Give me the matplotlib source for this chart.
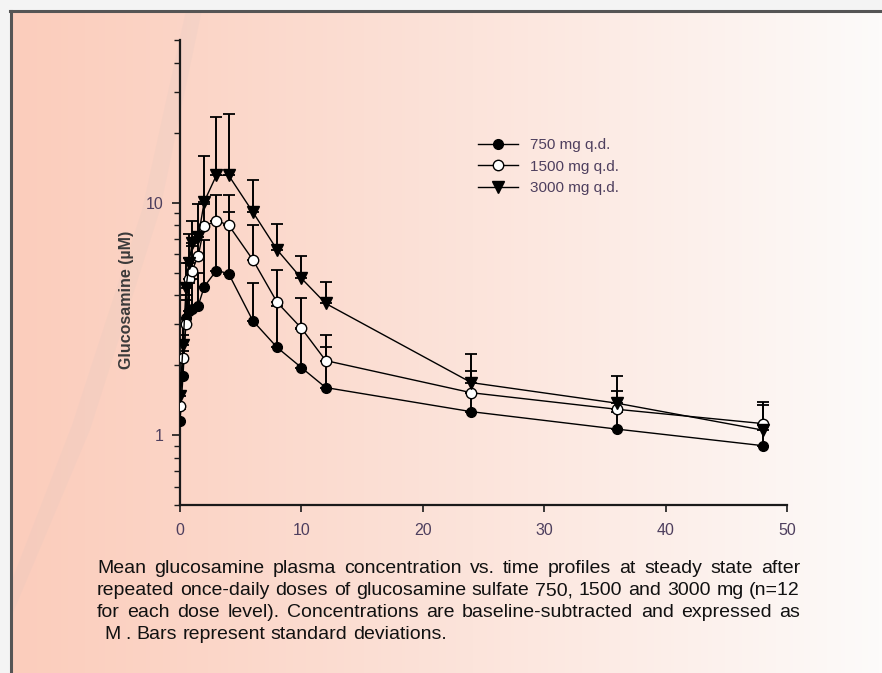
import matplotlib
matplotlib.use('Agg')
import matplotlib.pyplot as plt
import numpy as np
from matplotlib.patches import Polygon
from matplotlib.ticker import FixedLocator, FixedFormatter, NullFormatter, LogLocator

# sampling times (h) and mean concentrations (uM)
hours = [0, 0.25, 0.5, 0.75, 1, 1.5, 2, 3, 4, 6, 8, 10, 12, 24, 36, 48]
conc_750 = [1.15, 1.8, 3.2, 3.4, 3.5, 3.6, 4.35, 5.1, 4.95, 3.1, 2.38, 1.95, 1.6, 1.26, 1.06, 0.90]
conc_1500 = [1.33, 2.15, 3.0, 4.7, 5.1, 5.9, 7.9, 8.35, 8.0, 5.67, 3.72, 2.88, 2.09, 1.52, 1.29, 1.12]
conc_3000 = [1.47, 2.43, 4.3, 5.5, 6.7, 7.1, 10.1, 13.1, 13.1, 9.1, 6.26, 4.72, 3.68, 1.68, 1.37, 1.05]

# standard deviations (only the upper bar is drawn)
sd_750 = [0.15, 0.5, 0.8, 1.1, 1.2, 1.4, 2.55, 3.2, 4.15, 1.4, 1.2, 0.9, 0.8, 0.25, 0.2, 0.2]
sd_1500 = [0.2, 0.55, 0.8, 1.1, 1.4, 1.5, 2.0, 2.45, 2.8, 2.3, 1.4, 1.0, 0.6, 0.36, 0.25, 0.26]
sd_3000 = [0.28, 0.57, 1.2, 1.8, 1.6, 2.8, 5.8, 10.2, 10.9, 3.4, 1.84, 1.18, 0.88, 0.54, 0.43, 0.3]

dose_labels = ['750 mg q.d.', '1500 mg q.d.', '3000 mg q.d.']
x_ticks = [0, 10, 20, 30, 40, 50]
y_labeled = [1, 10]

caption_lines = [
    'Mean glucosamine plasma concentration vs. time profiles at steady state after',
    'repeated once-daily doses of glucosamine sulfate 750, 1500 and 3000 mg (n=12',
    'for each dose level). Concentrations are baseline-subtracted and expressed as',
    ' M . Bars represent standard deviations.',
]

W, H = 882, 673
FONT = 'Liberation Sans'

fig = plt.figure(figsize=(W / 100, H / 100), dpi=100)
fig.patch.set_facecolor('#f4f4f4')

# background panel with horizontal gradient
bg = fig.add_axes([10 / W, 0, (W - 10) / W, (H - 10) / H])
bg.set_axis_off()
left_c = np.array([251, 205, 188]) / 255
right_c = np.array([253, 251, 250]) / 255
t = np.linspace(0, 1, 256) ** 1.1
grad = left_c[None, :] * (1 - t[:, None]) + right_c[None, :] * t[:, None]
bg.imshow(grad[None, :, :], aspect='auto', extent=[0, 1, 0, 1])
bg.set_xlim(0, 1)
bg.set_ylim(0, 1)

# faint decorative swoosh
pw, ph = W - 10, H - 10
sw = [(176, 0), (192, 0), (150, 200), (80, 420), (0, 610), (0, 575), (62, 415), (132, 200)]
bg.add_patch(Polygon([(x / pw, 1 - y / ph) for x, y in sw], closed=True,
                     facecolor='#c8c0c0', alpha=0.10, edgecolor='none'))

# panel border (top and left)
fig.add_artist(plt.Line2D([10 / W, 1], [1 - 11 / H, 1 - 11 / H], color='#555555', lw=2.2))
fig.add_artist(plt.Line2D([11 / W, 11 / W], [0, 1 - 11 / H], color='#555555', lw=2.2))

ax = fig.add_axes([180 / W, 1 - 505 / H, 607 / W, 465 / H])
ax.patch.set_alpha(0)
ax.set_yscale('log')
ax.set_xlim(0, 50)
ax.set_ylim(0.5, 50)

series = [
    (conc_750, sd_750, dict(marker='o', mfc='black', mec='black', ms=7)),
    (conc_1500, sd_1500, dict(marker='o', mfc='white', mec='black', ms=7.5)),
    (conc_3000, sd_3000, dict(marker='v', mfc='black', mec='black', ms=8)),
]
handles = []
for conc, sd, mk in series:
    ax.errorbar(hours, conc, yerr=[np.zeros(len(sd)), sd], fmt='none',
                ecolor='black', elinewidth=1.4, capsize=4.5, capthick=1.3, zorder=2)
    ln, = ax.plot(hours, conc, color='black', lw=1.0, mew=1.0, zorder=3, **mk)
    handles.append(ln)

for s in ['top', 'right']:
    ax.spines[s].set_visible(False)
for s in ['left', 'bottom']:
    ax.spines[s].set_linewidth(1.6)
    ax.spines[s].set_color('#1a1a1a')

tick_color = '#4e3f5e'
ax.xaxis.set_major_locator(FixedLocator(x_ticks))
ax.set_xticklabels([str(v) for v in x_ticks])
ax.yaxis.set_major_locator(FixedLocator(y_labeled))
ax.yaxis.set_major_formatter(FixedFormatter([str(v) for v in y_labeled]))
ax.yaxis.set_minor_locator(LogLocator(base=10, subs=np.arange(2, 10)))
ax.yaxis.set_minor_formatter(NullFormatter())
ax.tick_params(axis='x', length=5, width=1.2, pad=8, labelsize=11.5,
               labelcolor=tick_color, color='#1a1a1a')
ax.tick_params(axis='y', which='major', length=6, width=1.2, pad=6,
               labelsize=11.5, labelcolor=tick_color, color='#1a1a1a')
ax.tick_params(axis='y', which='minor', length=4, width=1.0, color='#1a1a1a')
for lab in ax.get_xticklabels() + ax.get_yticklabels():
    lab.set_family(FONT)

fig.text(127 / W, 1 - 300 / H, 'Glucosamine (\u00b5M)', rotation=90,
         ha='center', va='center', fontsize=11.5, fontweight='bold',
         family=FONT, color='#3a3a3a')

leg = ax.legend(handles, dose_labels, loc='upper left',
                bbox_to_anchor=(478 / W, 1 - 138 / H), bbox_transform=fig.transFigure,
                frameon=False, handlelength=2.6, handletextpad=0.8,
                labelspacing=0.5, borderpad=0, borderaxespad=0, numpoints=1,
                prop={'family': FONT, 'size': 11})
for txt in leg.get_texts():
    txt.set_color(tick_color)

# justified caption, one text per word
cap_size = 14
renderer = fig.canvas.get_renderer()


def text_width(s):
    tmp = fig.text(0, 0, s, fontsize=cap_size, family=FONT)
    w = tmp.get_window_extent(renderer).width
    tmp.remove()
    return w


space_w = text_width('a a') - text_width('aa')
x0, x1 = 97, 800
baselines = [573, 595, 617, 639]
for i, (line, yb) in enumerate(zip(caption_lines, baselines)):
    words = line.split()
    objs = [fig.text(0, 1 - yb / H, w, fontsize=cap_size, family=FONT,
                     color='#111111', va='baseline', ha='left') for w in words]
    widths = [o.get_window_extent(renderer).width for o in objs]
    if i < len(caption_lines) - 1:
        gap = (x1 - x0 - sum(widths)) / (len(words) - 1)
        x = x0
    else:
        gap = space_w
        x = 104
    for o, w in zip(objs, widths):
        o.set_x(x / W)
        x += w + gap

fig.savefig('out.png', dpi=100, facecolor=fig.get_facecolor())
